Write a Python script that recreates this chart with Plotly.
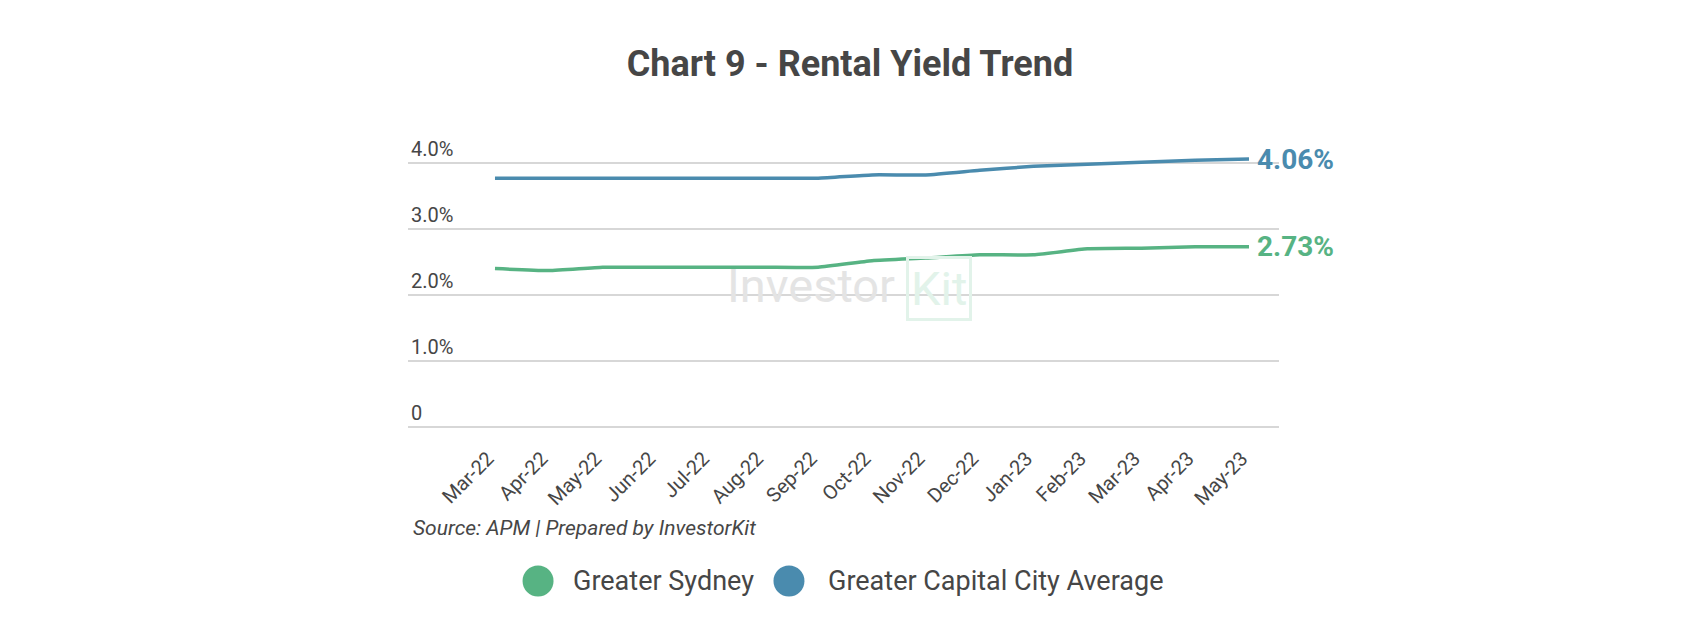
import plotly.graph_objects as go

months = ["Mar-22", "Apr-22", "May-22", "Jun-22", "Jul-22", "Aug-22", "Sep-22",
          "Oct-22", "Nov-22", "Dec-22", "Jan-23", "Feb-23", "Mar-23", "Apr-23", "May-23"]
sydney = [2.40, 2.37, 2.42, 2.42, 2.42, 2.42, 2.42, 2.52, 2.56, 2.61, 2.61, 2.70, 2.71, 2.73, 2.73]
capital_avg = [3.77, 3.77, 3.77, 3.77, 3.77, 3.77, 3.77, 3.82, 3.82, 3.89, 3.95, 3.98, 4.01, 4.04, 4.06]
series_names = ["Greater Sydney", "Greater Capital City Average"]
series_colors = ["#57B383", "#4A8BAE"]
y_tickvals = [0, 1, 2, 3, 4]
y_ticktext = ["0", "1.0%", "2.0%", "3.0%", "4.0%"]
title_text = "Chart 9 - Rental Yield Trend"
source_text = "Source: APM | Prepared by InvestorKit"

FONT = "Roboto"
TXT = "#464646"

fig = go.Figure()
for name, vals, col in zip(series_names, [sydney, capital_avg], series_colors):
    fig.add_trace(go.Scatter(
        x=months, y=vals, name=name, mode="lines",
        line=dict(color=col, width=3.5, shape="spline", smoothing=0.5),
        showlegend=False, hoverinfo="x+y"))
    fig.add_annotation(x=months[-1], y=vals[-1], xref="x", yref="y",
                       text=f"<b>{vals[-1]:.2f}%</b>", showarrow=False,
                       xanchor="left", yanchor="middle", xshift=6,
                       font=dict(family=FONT, size=28, color=col))

# watermark
fig.add_annotation(x=5.87, y=2.14, xref="x", yref="y", text="Investor", showarrow=False,
                   font=dict(family=FONT, size=47, color="#e4e4e4"), xanchor="center", yanchor="middle")
fig.add_annotation(x=8.24, y=2.1, xref="x", yref="y", text="Kit", showarrow=False,
                   font=dict(family=FONT, size=47, color="#e2f3ea"), xanchor="center", yanchor="middle",
                   bordercolor="#e2f3ea", borderwidth=3, borderpad=2)

# source note
fig.add_annotation(x=0.004, y=-0.345, xref="paper", yref="paper", text=f"<i>{source_text}</i>",
                   showarrow=False, xanchor="left", yanchor="middle",
                   font=dict(family=FONT, size=21, color=TXT))

# custom legend
leg_circle_x = [0.1493, 0.4374]
leg_text_x = [0.1871, 0.4799]
leg_y = -0.524
for name, col, cx, tx in zip(series_names, series_colors, leg_circle_x, leg_text_x):
    fig.add_shape(type="circle", xref="paper", yref="paper", xsizemode="pixel", ysizemode="pixel",
                  xanchor=cx, yanchor=leg_y, x0=-15.5, x1=15.5, y0=-15.5, y1=15.5,
                  fillcolor=col, line=dict(width=0))
    fig.add_annotation(x=tx, y=leg_y, xref="paper", yref="paper", text=name, showarrow=False,
                       xanchor="left", yanchor="middle", font=dict(family=FONT, size=27, color=TXT))

fig.update_layout(
    width=1700, height=640,
    margin=dict(l=408, r=421, t=133, b=213),
    paper_bgcolor="white", plot_bgcolor="white",
    title=dict(text=f"<b>{title_text}</b>", x=0.5, xref="container", xanchor="center",
               y=1 - 63 / 640, yref="container", yanchor="middle",
               font=dict(family=FONT, size=36, color=TXT)),
    xaxis=dict(type="category", range=[-1.615, 14.557], showgrid=False, zeroline=False,
               showline=False, tickangle=-45, ticks="", ticklabelstandoff=15, ticklabelshift=-7,
               tickfont=dict(family=FONT, size=20, color=TXT)),
    yaxis=dict(range=[0, 4.4545], tickvals=y_tickvals, ticktext=y_ticktext, showgrid=True,
               gridcolor="#d7d7d7", gridwidth=2, zeroline=True, zerolinecolor="#d7d7d7",
               zerolinewidth=2, showline=False, ticks="",
               ticklabelposition="inside top", tickfont=dict(family=FONT, size=20, color=TXT)),
    showlegend=False,
)

fig.write_html("out.html")
